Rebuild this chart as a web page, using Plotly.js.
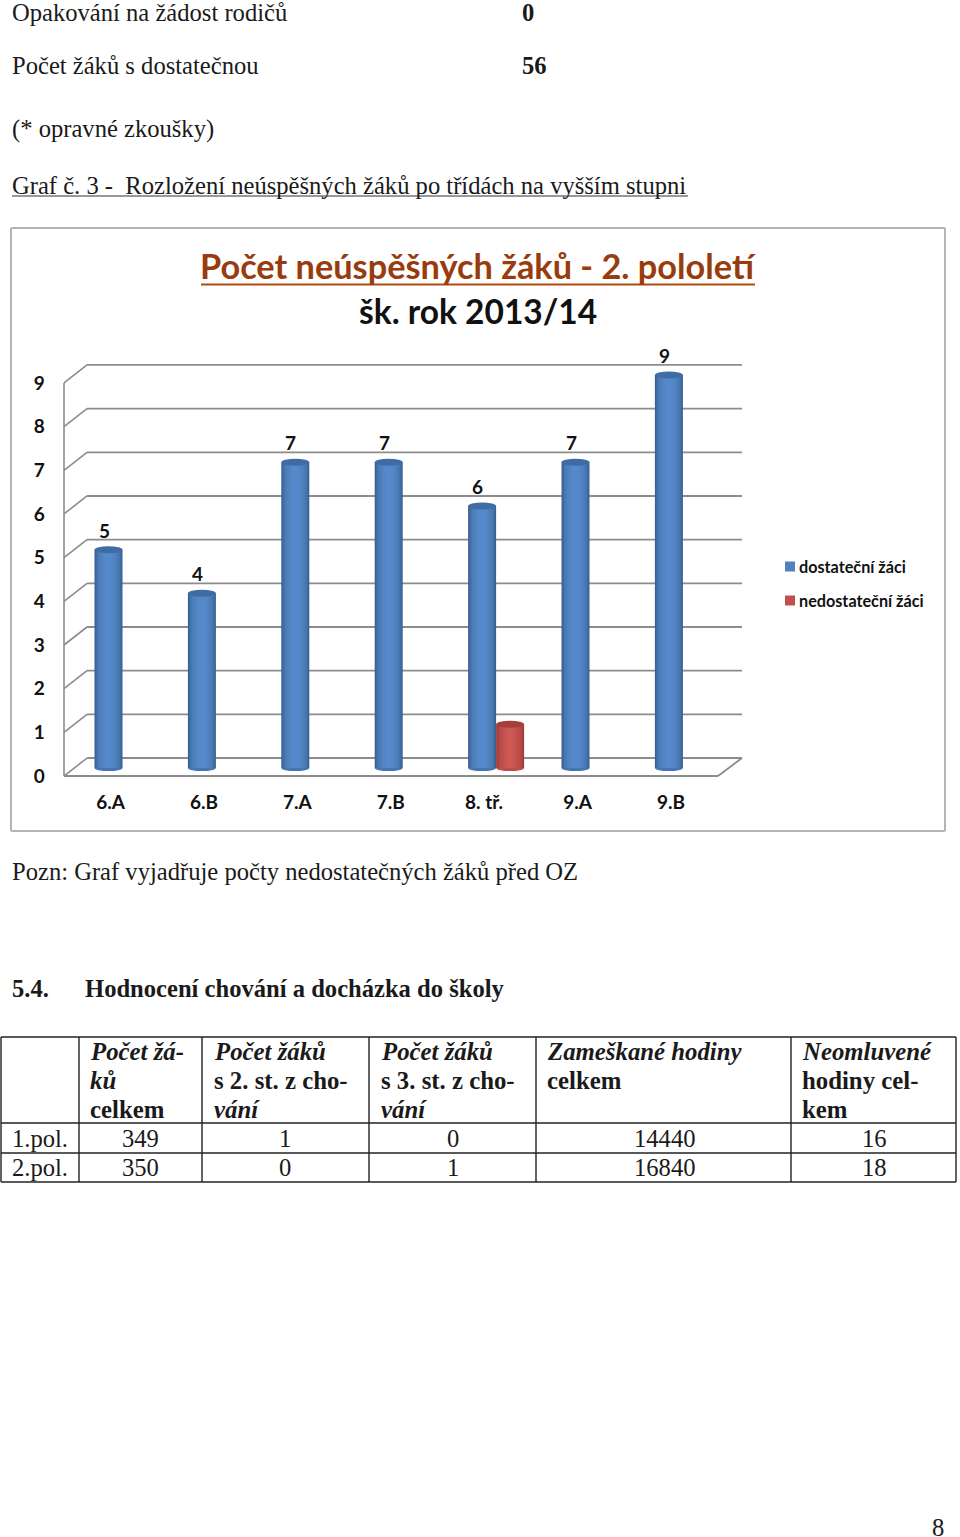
<!DOCTYPE html>
<html><head><meta charset="utf-8">
<script src="https://cdn.plot.ly/plotly-3.0.1.min.js"></script>
<style>html,body{margin:0;padding:0;background:#fff}</style></head>
<body><div id="chart" style="width:960px;height:1537px"></div>
<script>
const categories = ["6.A","6.B","7.A","7.B","8. tř.","9.A","9.B"];
const dostatecni = [5,4,7,7,6,7,9];
const nedostatecni = [0,0,0,0,1,0,0];
const yTicks = [0,1,2,3,4,5,6,7,8,9];
const seriesNames = ["dostateční žáci","nedostateční žáci"];
const seriesColors = ["#4f81bd","#c0504d"];
const blueShades = ["#38608f","#3f6ba0","#4574ad","#4a7bb6","#4f81bd","#5286c6","#5589cc"];
const redShades = ["#a03c39","#a9423f","#b24845","#b94c49","#c0504d","#c75450","#cd5854"];
const shadeWidths = [1,0.93,0.84,0.74,0.6,0.42,0.24];

const tableHeader = [
  ["<i>Počet žá-</i>","<i>ků</i>","celkem"],
  ["<i>Počet žáků</i>","s 2. st. z cho-","<i>vání</i>"],
  ["<i>Počet žáků</i>","s 3. st. z cho-","<i>vání</i>"],
  ["<i>Zameškané hodiny</i>","celkem"],
  ["<i>Neomluvené</i>","hodiny cel-","kem"]
];
const tableRowLabels = ["1.pol.","2.pol."];
const tableRows = [["349","1","0","14440","16"],["350","0","1","16840","18"]];
const pageLines = [
  ["Opakování na žádost rodičů",11,12.7],
  ["(* opravné zkoušky)",11,129],
  ["Pozn: Graf vyjadřuje počty nedostatečných žáků před OZ",11,872]
];

const W=960,H=1537;
const px=x=>x/W, py=y=>1-y/H;
const FG="#1a1a1a", SERIF="'Liberation Serif'", SANS="Lato", TS=24.6;
const PXU=93.4, UNITY=43.67, Y0=768, YTOP=9.5, YBOT=-0.5, CX0=122.5;
const BW=28/PXU;
const grid="#8c8c8c";
const traces=[];
function layers(vals,shades,off,name,id){
  shades.forEach((c,k)=>{
    const w=BW*shadeWidths[k];
    traces.push({type:"bar",x:categories,y:vals,name:name,marker:{color:c,line:{width:0}},
      width:w,offset:off+(BW-w)/2,showlegend:false,legendgroup:id,hoverinfo:"skip"});
  });
}
layers(dostatecni,blueShades,-BW,seriesNames[0],"a");
layers(nedostatecni,redShades,0,seriesNames[1],"b");

const shapes=[], ann=[];
function line(x0,y0,x1,y1,c,w){
  shapes.push({type:"line",xref:"paper",yref:"paper",x0:px(x0),x1:px(x1),y0:py(y0),y1:py(y1),line:{color:c,width:w},layer:"below"});
}
line(11,228,945,228,"#b4b4b4",2);line(945,228,945,831,"#b4b4b4",2);
line(945,831,11,831,"#b4b4b4",2);line(11,831,11,228,"#b4b4b4",2);
const backOff=10/UNITY, frontOff=-8/UNITY;
yTicks.forEach(v=>{
  shapes.push({type:"line",xref:"paper",yref:"y",x0:px(87),x1:px(742),y0:v+backOff,y1:v+backOff,line:{color:grid,width:1.8},layer:"below"});
  shapes.push({type:"line",xref:"paper",yref:"y",x0:px(64),x1:px(87),y0:v+frontOff,y1:v+backOff,line:{color:grid,width:1.6},layer:"below"});
});
shapes.push({type:"line",xref:"paper",yref:"y",x0:px(64),x1:px(64),y0:frontOff,y1:9+frontOff,line:{color:grid,width:1.6},layer:"below"});
shapes.push({type:"line",xref:"paper",yref:"y",x0:px(64),x1:px(718),y0:frontOff,y1:frontOff,line:{color:grid,width:2.2},layer:"below"});
shapes.push({type:"line",xref:"paper",yref:"y",x0:px(718),x1:px(742),y0:frontOff,y1:backOff,line:{color:grid,width:1.8},layer:"below"});
function caps(vals,off,top,bottom){
  vals.forEach((v,i)=>{
    if(!v)return;
    const ax=i+off;
    shapes.push({type:"circle",xref:"x",yref:"y",xsizemode:"pixel",ysizemode:"pixel",xanchor:ax,yanchor:0,
      x0:-14,x1:14,y0:-3,y1:3,fillcolor:bottom,line:{width:0},layer:"below"});
    shapes.push({type:"circle",xref:"x",yref:"y",xsizemode:"pixel",ysizemode:"pixel",xanchor:ax,yanchor:v,
      x0:-14,x1:14,y0:-3.5,y1:3.5,fillcolor:top,line:{width:0},layer:"above"});
  });
}
caps(dostatecni,-BW/2,"#3f6ca3","#4676b2");
caps(nedostatecni,BW/2,"#a63e3a","#bc4d49");

dostatecni.forEach((v,i)=>ann.push({xref:"x",yref:"y",x:i,y:v,xshift:-18.5,yshift:19.5,text:"<b>"+v+"</b>",showarrow:false,
  xanchor:"center",yanchor:"middle",font:{family:SANS,size:19,color:"#111"}}));

function text(s,x,y,size,o){
  o=o||{};
  ann.push({xref:"paper",yref:"paper",x:px(x),y:py(y),text:s,showarrow:false,xanchor:o.a||"left",yanchor:"middle",
    align:o.a||"left",borderpad:0,font:{family:o.f||SERIF,size:size,color:o.c||FG}});
}
pageLines.forEach(l=>text(l[0],l[1],l[2],TS));
text("<b>0</b>",521,12,TS);
text("Počet žáků s dostatečnou",11,66,TS);text("<b>56</b>",521,66,TS);
text("Graf č. 3 -  Rozložení neúspěšných žáků po třídách na vyšším stupni",11,185,TS);
line(12,196,688,196,"#333",1.2);
text("<b>Počet neúspěšných žáků - 2. pololetí</b>",478,265,34.3,{a:"center",f:SANS,c:"#983c0e"});
line(201,284.5,755,284.5,"#b04a12",2.2);
text("<b>šk. rok 2013/14</b>",478,311.5,33.5,{a:"center",f:SANS,c:"#111"});
text("<b>5.4.</b>",11,988.5,TS);
text("<b>Hodnocení chování a docházka do školy</b>",84,988.5,TS);

// legend keys
seriesNames.forEach((n,i)=>{
  const y=566.5+34*i;
  shapes.push({type:"rect",xref:"paper",yref:"paper",x0:px(785),x1:px(795),y0:py(y-5),y1:py(y+5),fillcolor:seriesColors[i],line:{width:0}});
  text("<b>"+n+"</b>",798,y,16.2,{f:SANS,c:"#111"});
});

const colX=[1,79,202,369,536,791,956], rowY=[1037,1123,1153,1182];
colX.forEach(x=>line(x,1037,x,1182,"#222",1.4));
rowY.forEach(y=>line(1,y,956,y,"#222",1.4));
const headX=[89,213,380,546,801], headY=[1051.5,1080.5,1109.5];
tableHeader.forEach((cell,c)=>cell.forEach((t,r)=>text("<b>"+t+"</b>",headX[c],headY[r],24.8)));
const bodyX=[140,285,453,664,874], bodyY=[1138.5,1167.5];
tableRows.forEach((row,r)=>{
  text(tableRowLabels[r],11,bodyY[r],TS);
  row.forEach((t,c)=>text(t,bodyX[c],bodyY[r],TS,{a:"center"}));
});
text("8",938,1527.5,TS,{a:"center"});

const layout={
  width:W,height:H,autosize:false,margin:{l:0,r:0,t:0,b:0},paper_bgcolor:"#fff",plot_bgcolor:"rgba(0,0,0,0)",
  barmode:"overlay",hovermode:false,showlegend:false,
  xaxis:{type:"category",categoryorder:"array",categoryarray:categories,range:[-0.5,6.5],
    domain:[px(CX0-PXU/2),px(CX0+6.5*PXU)],showgrid:false,zeroline:false,showline:false,ticks:"",
    ticklabelshift:-12,ticklabelstandoff:-1,
    tickfont:{family:SANS,size:19,color:"#111",weight:"bold"},automargin:false},
  yaxis:{range:[YBOT,YTOP],domain:[py(Y0-YBOT*UNITY),py(Y0-YTOP*UNITY)],tickmode:"array",tickvals:yTicks,ticktext:yTicks.map(String),
    showgrid:false,zeroline:false,showline:false,ticks:"",ticklabelshift:8,ticklabelstandoff:30,
    tickfont:{family:SANS,size:19,color:"#111",weight:"bold"},automargin:false},
  shapes:shapes,annotations:ann
};
Plotly.newPlot("chart",traces,layout,{displayModeBar:false,staticPlot:true});
</script></body></html>
